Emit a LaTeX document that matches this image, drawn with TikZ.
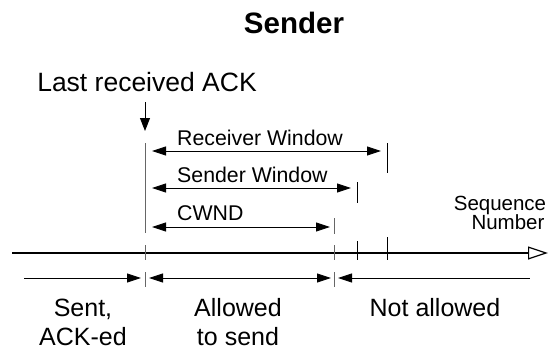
\documentclass[tikz,border=0pt]{standalone}
\usepackage{fontspec}
\setmainfont{Liberation Sans}
\usetikzlibrary{arrows.meta}
\begin{document}
\begin{tikzpicture}[x=1pt,y=-1pt,
  lbl/.style={inner sep=0pt, anchor=base},
  tip/.tip={Triangle[length=14pt,width=9pt]},
  dimline/.style={line width=0.9pt},
  tick/.style={line width=1pt},
  softtick/.style={line width=1pt, draw=black!60},
  axisline/.style={line width=2pt},
  titlefont/.style={font=\fontsize{29.5}{34}\selectfont\bfseries},
  bigfont/.style={font=\fontsize{26.5}{30}\selectfont},
  midfont/.style={font=\fontsize{21.3}{24}\selectfont},
  smallfont/.style={font=\fontsize{20.5}{18}\selectfont},
  lowfont/.style={font=\fontsize{25}{29}\selectfont}]
\useasboundingbox (0,0) rectangle (550,351);

% headings
\node[lbl, titlefont] (title) at (294,33) {Sender};
\node[lbl, bigfont] (lastack) at (147,91) {Last received ACK};

% pointer to the last acknowledged segment
\coordinate (ptrtop) at (145,102);
\coordinate (ptrend) at (145,131);
\draw[dimline, -{Triangle[length=13pt,width=10pt]}] (ptrtop) -- (ptrend);

% boundary lines
\coordinate (ackA) at (145,143);
\coordinate (ackB) at (145,233);
\draw[softtick] (ackA) -- (ackB);
\coordinate (rwA) at (387,143);
\coordinate (rwB) at (387,173);
\draw[tick] (rwA) -- (rwB);
\coordinate (swA) at (357,182);
\coordinate (swB) at (357,203);
\draw[tick] (swA) -- (swB);
\coordinate (cwA) at (334,218);
\coordinate (cwB) at (334,234);
\draw[softtick] (cwA) -- (cwB);

% window extents
\coordinate (rwL) at (152,151);
\coordinate (rwR) at (381,151);
\draw[dimline, tip-tip] (rwL) -- (rwR);
\node[lbl, midfont, anchor=base west] (rwlabel) at (177,145) {Receiver Window};

\coordinate (swL) at (152,188);
\coordinate (swR) at (351,188);
\draw[dimline, tip-tip] (swL) -- (swR);
\node[lbl, midfont, anchor=base west] (swlabel) at (177,182) {Sender Window};

\coordinate (cwL) at (152,227);
\coordinate (cwR) at (330,227);
\draw[dimline, tip-tip] (cwL) -- (cwR);
\node[lbl, midfont, anchor=base west] (cwlabel) at (177,220) {CWND};

% sequence number axis
\coordinate (axL) at (12,253);
\coordinate (axR) at (548,253);
\draw[axisline, -{Triangle[open,length=20pt,width=13pt,line width=1.2pt]}] (axL) -- (axR);
\node[lbl, smallfont] (seq) at (500,210) {Sequence};
\node[lbl, smallfont] (num) at (508,229) {Number};

% marks on the axis
\coordinate (t1a) at (145,245); \coordinate (t1b) at (145,260);
\coordinate (t2a) at (334,245); \coordinate (t2b) at (334,260);
\coordinate (t3a) at (357,241); \coordinate (t3b) at (357,260);
\coordinate (t4a) at (387,237); \coordinate (t4b) at (387,260);
\draw[softtick] (t1a) -- (t1b);
\draw[softtick] (t2a) -- (t2b);
\draw[tick] (t3a) -- (t3b);
\draw[tick] (t4a) -- (t4b);

% region separators below the axis
\coordinate (s1a) at (145,272); \coordinate (s1b) at (145,287);
\coordinate (s2a) at (334,272); \coordinate (s2b) at (334,287);
\draw[softtick] (s1a) -- (s1b);
\draw[softtick] (s2a) -- (s2b);

% regions
\coordinate (r1L) at (24,278);  \coordinate (r1R) at (141,278);
\coordinate (r2L) at (149,278); \coordinate (r2R) at (331,278);
\coordinate (r3L) at (338,278); \coordinate (r3R) at (530,278);
\draw[dimline, -tip] (r1L) -- (r1R);
\draw[dimline, tip-tip] (r2L) -- (r2R);
\draw[dimline, tip-] (r3L) -- (r3R);

\node[lbl, lowfont] (sent) at (83,316) {Sent,};
\node[lbl, lowfont] (acked) at (83,345) {ACK-ed};
\node[lbl, lowfont] (allowed) at (238,316) {Allowed};
\node[lbl, lowfont] (tosend) at (238,345) {to send};
\node[lbl, lowfont] (notallowed) at (435,316) {Not allowed};
\end{tikzpicture}
\end{document}
